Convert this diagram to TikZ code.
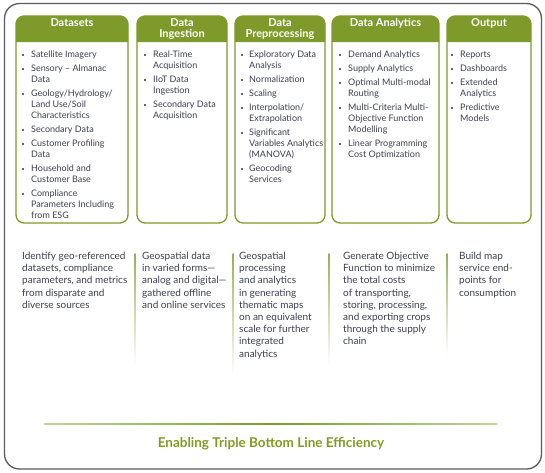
\documentclass[tikz,border=0pt]{standalone}
\usepackage{fontspec}
\setmainfont{Lato}
\definecolor{hdr}{HTML}{7E9A2A}
\definecolor{txt}{HTML}{3D3F4E}
\definecolor{ttl}{HTML}{7F9C22}
\definecolor{frm}{HTML}{5A5A60}
\tikzset{
  frame/.style={draw=frm, line width=1.3pt, rounded corners=15pt},
  boxline/.style={draw=hdr, line width=1.3pt, rounded corners=8pt},
  hdrfill/.style={fill=hdr},
  hdrtext/.style={text=white, font=\bfseries\fontsize{11}{11}\selectfont, align=center, inner sep=0pt, anchor=north},
  itemtext/.style={text=txt, font=\fontsize{9}{11}\selectfont, inner sep=0pt, anchor=north west},
  desctext/.style={text=txt, font=\fontsize{10}{12.2}\selectfont, align=left, inner sep=0pt, anchor=north west},
  sep/.style={top color=hdr!80, bottom color=white},
}
\newcommand{\bul}{\raisebox{1.8pt}{\textcolor{txt!80}{\rule{2pt}{2pt}}}}
\newcommand{\colbox}[4]{%
  \fill[hdrfill] (#2,42) [rounded corners=8pt] -- (#2,16) -- (#3,16) [sharp corners] -- (#3,42) -- cycle;
  \draw[boxline] (#2,16) rectangle (#3,223);
  \node[hdrtext] (h#1) at ({(#2+#3)/2},18.5) {#4};
}
\begin{document}
\begin{tikzpicture}[x=1pt,y=-1pt]
\useasboundingbox (0,0) rectangle (545,472);
\draw[frame] (4.5,3.5) rectangle (541.5,469);

\colbox{ds}{16}{128}{Datasets}
\colbox{di}{137}{227}{Data\\Ingestion}
\colbox{dp}{235}{325}{Data\\Preprocessing}
\colbox{da}{332}{439}{Data Analytics}
\colbox{ou}{447}{531}{Output}

\node[itemtext] (ids) at (22,49.5) {\begin{tabular}{@{}p{9pt}@{}l@{}}
\bul & Satellite Imagery\\[3pt]
\bul & Sensory -- Almanac\\ & Data\\[3pt]
\bul & Geology/Hydrology/\\ & Land Use/Soil\\ & Characteristics\\[3pt]
\bul & Secondary Data\\[3pt]
\bul & Customer Profiling\\ & Data\\[3pt]
\bul & Household and\\ & Customer Base\\[3pt]
\bul & Compliance\\ & Parameters Including\\ & from ESG
\end{tabular}};

\node[itemtext] (idi) at (144,49.5) {\begin{tabular}{@{}p{9pt}@{}l@{}}
\bul & Real-Time\\ & Acquisition\\[3pt]
\bul & IIoT Data\\ & Ingestion\\[3pt]
\bul & Secondary Data\\ & Acquisition
\end{tabular}};

\node[itemtext] (idp) at (241,49.5) {\begin{tabular}{@{}p{8pt}@{}l@{}}
\bul & Exploratory Data\\ & Analysis\\[3pt]
\bul & Normalization\\[3pt]
\bul & Scaling\\[3pt]
\bul & Interpolation/\\ & Extrapolation\\[3pt]
\bul & Significant\\ & Variables Analytics\\ & (MANOVA)\\[3pt]
\bul & Geocoding\\ & Services
\end{tabular}};

\node[itemtext] (ida) at (339,49.5) {\begin{tabular}{@{}p{9pt}@{}l@{}}
\bul & Demand Analytics\\[3pt]
\bul & Supply Analytics\\[3pt]
\bul & Optimal Multi-modal\\ & Routing\\[3pt]
\bul & Multi-Criteria Multi-\\ & Objective Function\\ & Modelling\\[3pt]
\bul & Linear Programming\\ & Cost Optimization
\end{tabular}};

\node[itemtext] (iou) at (451,49.5) {\begin{tabular}{@{}p{9pt}@{}l@{}}
\bul & Reports\\[3pt]
\bul & Dashboards\\[3pt]
\bul & Extended\\ & Analytics\\[3pt]
\bul & Predictive\\ & Models
\end{tabular}};

\shade[sep] (134.6,253) rectangle (135.6,365);
\shade[sep] (232.6,253) rectangle (233.6,375);
\shade[sep] (328.6,253) rectangle (329.6,365);
\shade[sep] (446.6,253) rectangle (447.6,355);

\node[desctext] (dds) at (22,252) {Identify geo-referenced\\datasets, compliance\\parameters, and metrics\\from disparate and\\diverse sources};
\node[desctext] (ddi) at (142,252) {Geospatial data\\in varied forms---\\analog and digital---\\gathered offline\\and online services};
\node[desctext] (ddp) at (239,252) {Geospatial\\processing\\and analytics\\in generating\\thematic maps\\on an equivalent\\scale for further\\integrated\\analytics};
\node[desctext] (dda) at (343,252) {Generate Objective\\Function to minimize\\the total costs\\of transporting,\\storing, processing,\\and exporting crops\\through the supply\\chain};
\node[desctext] (dou) at (459,252) {Build map\\service end-\\points for\\consumption};

\shade[left color=hdr!45, right color=hdr!45, middle color=hdr] (44,423.3) rectangle (497,424.7);
\node[text=ttl, font=\bfseries\fontsize{13.5}{15}\selectfont, inner sep=0pt] (title) at (271,444) {Enabling Triple Bottom Line Efficiency};
\end{tikzpicture}
\end{document}
